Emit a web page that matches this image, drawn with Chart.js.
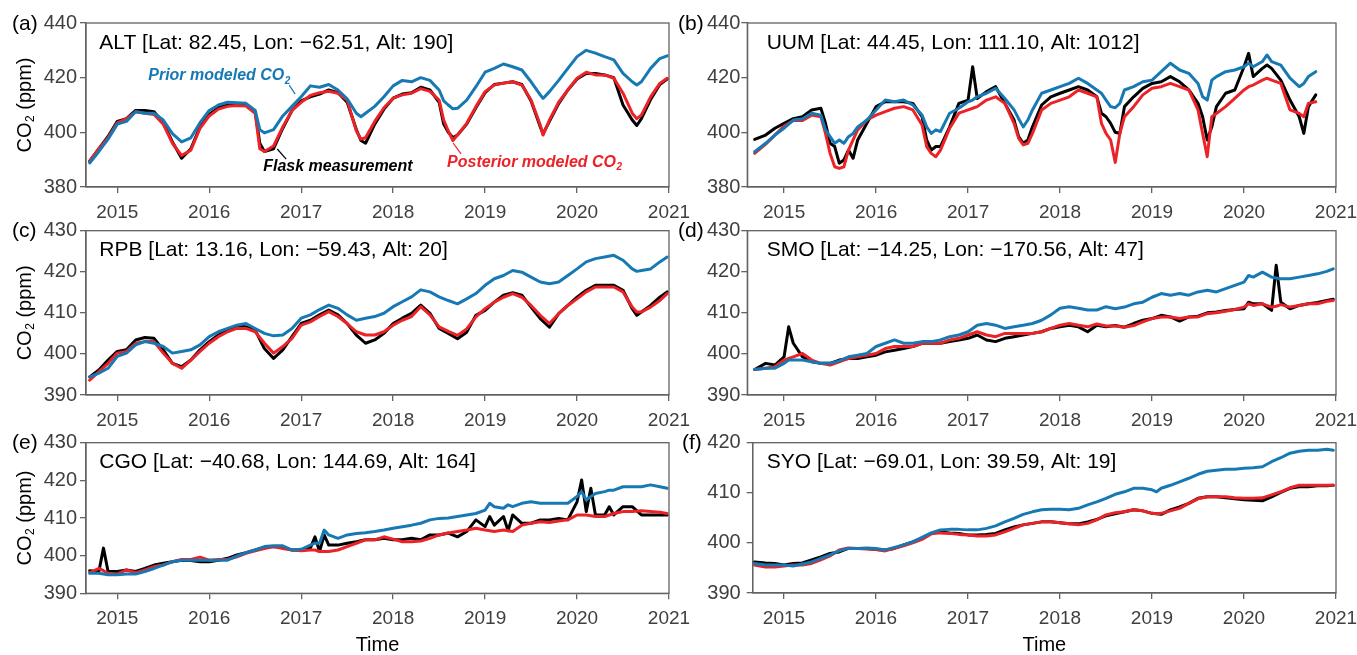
<!DOCTYPE html>
<html>
<head>
<meta charset="utf-8">
<script src="https://cdn.jsdelivr.net/npm/chart.js@4.4.1/dist/chart.umd.min.js"></script>
<style>
  html, body { margin: 0; padding: 0; background: #fff; overflow: hidden; }
  #fig { position: relative; width: 1357px; height: 655px; overflow: hidden; }
  #fig canvas { position: absolute; }
</style>
</head>
<body>
<div id="fig"></div>
<script>
// ---------------- data (decimal year, ppm) ----------------
const xTicks = [2015, 2016, 2017, 2018, 2019, 2020, 2021];

// ALT
const tALT = [2014.70,2014.8,2014.9,2015.0,2015.1,2015.2,2015.3,2015.4,2015.5,2015.6,2015.7,2015.8,2015.9,2016.0,2016.1,2016.2,2016.3,2016.4,2016.5,2016.55,2016.6,2016.7,2016.8,2016.9,2017.0,2017.1,2017.2,2017.3,2017.4,2017.5,2017.6,2017.65,2017.7,2017.8,2017.9,2018.0,2018.1,2018.2,2018.3,2018.4,2018.5,2018.55,2018.6,2018.65,2018.7,2018.8,2018.9,2019.0,2019.1,2019.2,2019.3,2019.4,2019.5,2019.6,2019.63,2019.7,2019.8,2019.9,2020.0,2020.1,2020.2,2020.3,2020.4,2020.5,2020.6,2020.65,2020.7,2020.8,2020.9,2020.98];
const priorALT = [388.8,393,397.5,403,404,407.5,407,407,404.5,399.5,396.5,398,403.5,408,410,411,410.8,410.6,408,401,399.8,401,406,409.5,413,417,416.5,417.5,415.5,412.3,407,405.7,407,409.5,413,417,419,418.5,420,419,415.5,411.5,410,408.6,408.8,411.8,416.7,422,423.4,425,424,422.8,418.5,413.7,412.4,414.9,419,423.4,427.7,430,429,427.7,426.5,421.6,418.5,417.3,418.5,423.4,427,428];
const postALT = [389.5,394,398,403.5,405,407.5,407,406.5,403,396,391.5,393.5,401.5,406,408.5,409.5,409.8,409.6,407,394,393,395,402,408,411,413.5,414.5,415,414.3,411.8,400.5,397.5,398,404,409,412.5,413.7,414.3,416,415,411.8,404.5,400.5,397,399,403.3,409.4,414.9,417.3,418,418.5,417.3,411.8,402.7,399,404.5,411,415.5,419.8,422,421,421,419.8,414.3,407,405,406.3,413,417.9,419.8];
const flaskALT = [389.5,394,398.5,404,405,408,408,407.5,403.5,396.5,390.5,394,402,406.5,409,410,410.2,410,407.5,396,393,394,401.5,408,411.5,413,414,415.5,414.5,411,401,397,396,403,408.5,412.5,414,414.5,416.5,415.5,411,403,400,398,399,403,409,414.5,417.5,418,418.5,417.5,411.5,402,399.5,404,410.5,415.5,419.5,421.5,421.5,421,420,410,404.5,402.5,405,412,417.5,419.5];

// UUM
const tUUM = [2014.68,2014.8,2014.9,2015.0,2015.1,2015.2,2015.3,2015.4,2015.45,2015.5,2015.55,2015.6,2015.65,2015.7,2015.75,2015.8,2015.9,2016.0,2016.1,2016.2,2016.3,2016.4,2016.5,2016.55,2016.6,2016.65,2016.7,2016.8,2016.9,2017.0,2017.05,2017.1,2017.2,2017.3,2017.4,2017.5,2017.55,2017.6,2017.65,2017.7,2017.8,2017.9,2018.0,2018.1,2018.2,2018.3,2018.4,2018.45,2018.5,2018.55,2018.6,2018.65,2018.7,2018.8,2018.9,2019.0,2019.1,2019.2,2019.3,2019.4,2019.5,2019.55,2019.6,2019.65,2019.7,2019.8,2019.9,2020.0,2020.05,2020.1,2020.2,2020.25,2020.3,2020.4,2020.5,2020.6,2020.65,2020.7,2020.78];
const priorUUM = [392.9,396,399,401.5,404.5,405,407,406.3,400.9,398.4,396,397.2,396,398.4,399.6,402,404.5,408.2,411.8,411.2,411.8,410,406.3,402,399.6,400.9,400.3,407,408.8,411.2,411.8,413,414.3,416.1,412.4,408.2,405,402,404.5,408.2,414.3,415.5,416.7,417.9,419.8,417.9,415.5,414.3,411.8,409.4,409,410.6,415.5,416.7,418.5,419.1,422.2,425.3,422.8,421.6,417.9,413,411.8,419.1,420.4,422.2,422.8,424,425.3,424,425.9,428.3,425.9,424.6,419.8,416.7,417.9,420.4,422.2];
const postUUM = [392.3,395.7,399,402.3,404.3,404.3,406.3,405.7,399.6,392.3,387.4,386.8,387.4,393.5,397.2,400.9,404.5,406.3,407.6,408.8,409.4,408.2,402.7,394.8,392.3,391.1,393.5,401.5,407,408.2,408.8,409.4,411.8,413,410.6,403.3,397.8,395.4,396,399.6,408.2,410.6,411.8,413,415.5,414.3,413,403.3,399.6,397.2,389,399.6,405.7,409.4,413.7,416.1,416.7,417.9,416.7,415.5,408.2,399.6,391.1,405.7,406.9,409.4,412.4,415.5,416.7,417.3,419.1,419.8,419.1,417.9,408.2,406.9,405.7,410.6,411.2];
const flaskUUM = [397.4,399,401.5,403.3,405,405.7,408.2,408.8,403.3,396,394.8,388.7,389.9,393.5,390.5,397.2,403.3,409.4,411.2,411.2,411.2,410.6,405.7,397.2,393.5,394.8,394.8,402,410.6,411.8,424,412.4,414.9,416.7,410.6,404.5,398.4,396,397.2,402,410,413,414.3,415.5,416.7,415.5,413,407,405.7,403.3,400,399.6,409.4,413,416.1,417.9,418.5,420.4,418.5,415.5,410.6,405.7,397.2,402,409.4,414.3,415.5,424,428.9,420.4,423.4,424.6,423.4,419.1,411.8,405.7,399.6,409.4,413.7];

// RPB
const tRPB = [2014.7,2014.8,2014.9,2015.0,2015.1,2015.2,2015.3,2015.4,2015.5,2015.6,2015.7,2015.8,2015.9,2016.0,2016.1,2016.2,2016.3,2016.4,2016.5,2016.6,2016.7,2016.8,2016.9,2017.0,2017.1,2017.2,2017.3,2017.4,2017.5,2017.6,2017.7,2017.8,2017.9,2018.0,2018.1,2018.2,2018.3,2018.4,2018.5,2018.6,2018.7,2018.8,2018.9,2019.0,2019.1,2019.2,2019.3,2019.4,2019.5,2019.6,2019.7,2019.8,2019.9,2020.0,2020.1,2020.2,2020.3,2020.4,2020.5,2020.6,2020.65,2020.7,2020.8,2020.9,2020.98];
const priorRPB = [394.4,395.3,396.5,399.4,400.2,402.2,403,402.6,401.8,400.2,400.6,401,402.2,404.2,405.4,406.2,407,407.4,406.2,405,404.4,404.6,406.2,408.7,409.5,410.8,411.9,411.1,409.5,408.2,408.7,409.1,409.9,411.5,412.7,413.9,415.6,415.1,413.9,413,412.2,413.4,414.7,416.7,418.3,419.1,420.3,419.9,418.7,417.5,417.1,417.5,419.1,420.7,422.4,423.2,423.6,424,422.8,420.7,420.1,420.3,420.7,422.4,423.6];
const postRPB = [393.6,395.7,397.7,400.2,400.6,402.6,403,403,400.2,397.7,396.5,398.5,400.6,402.6,404.2,405.4,406.2,406.2,405.4,402.6,400.2,401.8,403.8,407,407.8,409.1,410.3,409.1,407.4,405.4,404.6,404.6,405.4,407,408.2,409.1,411.5,409.5,406.6,405.5,404.5,406.1,409,411,412.6,413.8,414.7,413.8,411.8,409.4,407.4,409.8,411.8,413.4,415.1,416.3,416.3,416.3,415.1,411.4,410.2,410.2,411.4,413,414.7];
const flaskRPB = [394.4,396.1,398.5,400.6,401,403.4,404,403.8,401,397.7,396.9,398.5,401,403,404.6,405.8,406.8,406.6,405.8,401.3,398.9,401,404.2,407.4,408.2,409.5,410.7,409.5,407.4,404.6,402.6,403.4,405,407.4,408.7,409.9,411.9,409.9,406.2,405,403.7,405.3,409.4,410.6,412.6,414.3,414.9,414.3,411.4,408.6,406.5,409.8,411.8,413.8,415.5,416.7,416.7,416.7,415.5,411,409.4,410.2,411.8,413.8,415.1];

// SMO
const tSMO = [2014.68,2014.8,2014.9,2015.0,2015.05,2015.1,2015.2,2015.3,2015.4,2015.5,2015.6,2015.7,2015.8,2015.9,2016.0,2016.1,2016.2,2016.3,2016.4,2016.5,2016.6,2016.7,2016.8,2016.9,2017.0,2017.1,2017.2,2017.3,2017.4,2017.5,2017.6,2017.7,2017.8,2017.9,2018.0,2018.1,2018.2,2018.3,2018.4,2018.5,2018.6,2018.7,2018.8,2018.9,2019.0,2019.1,2019.2,2019.3,2019.4,2019.5,2019.6,2019.7,2019.8,2019.9,2020.0,2020.05,2020.1,2020.2,2020.3,2020.35,2020.4,2020.5,2020.6,2020.7,2020.8,2020.9,2020.97];
const priorSMO = [396.2,396.5,396.5,397.7,398.5,398.5,398.5,398.1,397.7,397.7,398.3,399.3,399.7,400.1,401.8,402.6,403.4,402.6,402.6,403,403,403.4,404.2,404.6,405.4,407,407.4,407,406.2,406.6,407,407.4,408.2,409.5,411.1,411.5,411.1,410.7,410.7,411.5,411,411.4,412.2,412.6,413.8,414.7,414.3,414.7,414.3,415.1,415.5,415.1,415.9,416.7,417.5,419.1,418.7,419.9,418.7,418.5,418.3,418.3,418.7,419.1,419.5,420.1,420.7];
const postSMO = [396.2,396.5,396.9,398.5,398.9,399.3,400.1,398.5,397.7,397.3,398.1,398.9,399.3,399.7,400.1,401.3,401.8,401.8,401.8,402.6,402.6,402.6,403.4,403.8,404.6,405.4,404.6,404.2,405,405,405,405,405.4,406.2,407,407.4,407,406.6,407.3,406.8,406.8,406.5,406.9,407.8,408.6,409,409,408.6,409,409,409.8,410,410.4,410.8,411.4,412.2,411.8,412.2,411.4,411.6,412,411.4,411.8,412.2,412.2,412.8,413];
const flaskSMO = [396.2,397.7,397.3,399.3,406.6,402.6,399.3,398.1,397.7,397.7,398.5,398.9,398.9,399.3,399.7,400.5,400.9,401.3,401.8,402.6,402.6,402.6,403,403.4,403.8,404.6,403.4,403,403.8,404.2,404.6,405,405.4,406.2,406.6,407,406.6,405.4,407,406.6,406.9,406.5,407.4,408.2,408.6,409.4,409,408,409,409.2,410,410.2,410.6,410.8,411,412.6,412.2,412.2,410.6,421.6,412.6,411,411.8,412.2,412.5,413,413.3];

// CGO
const tCGO = [2014.7,2014.8,2014.85,2014.9,2015.0,2015.1,2015.2,2015.3,2015.4,2015.5,2015.6,2015.7,2015.8,2015.9,2016.0,2016.1,2016.2,2016.3,2016.4,2016.5,2016.6,2016.7,2016.8,2016.9,2017.0,2017.1,2017.15,2017.2,2017.25,2017.3,2017.4,2017.5,2017.6,2017.7,2017.8,2017.9,2018.0,2018.1,2018.2,2018.3,2018.4,2018.5,2018.6,2018.7,2018.8,2018.9,2019.0,2019.05,2019.1,2019.2,2019.25,2019.3,2019.4,2019.5,2019.6,2019.7,2019.8,2019.9,2020.0,2020.05,2020.1,2020.15,2020.2,2020.3,2020.35,2020.4,2020.5,2020.6,2020.7,2020.8,2020.9,2020.98];
const priorCGO = [395.3,395.3,395.1,394.9,394.9,395.1,395.1,395.8,396.6,397.5,398.4,398.8,398.8,398.8,398.8,398.8,398.8,399.9,400.8,401.5,402.4,402.6,402.6,401.5,401.7,402.8,403.3,403.3,406.8,405.5,404.6,405.5,405.9,406.1,406.4,406.8,407.3,407.7,408.1,408.6,409.5,409.9,410,410.4,410.8,411.2,412.1,413.9,413,412.6,413.5,413,413.9,414.3,413.9,413.9,413.9,413.9,415.7,417,414.8,415.7,416.5,417,417.4,417.4,418.3,418.3,418.3,418.8,418.3,417.9];
const postCGO = [395.5,396.6,396,395.3,395.1,396.2,395.5,396.2,397.1,397.5,398.4,399,399,399.6,398.8,399,399,399.7,400.6,401.3,401.9,402.4,401.9,401.5,401.3,401.5,401.5,401.1,401.1,401.1,401.5,402.4,403.3,404.2,404.2,405,404.4,403.7,403.7,403.9,404.6,405.5,406,406.4,406.8,407.3,406.8,406.6,406.4,406.8,406.6,406.4,408.1,408.6,409,408.8,409.2,409.5,410.8,410.8,410.8,410.6,410.4,410.4,410.8,411.2,411.7,411.7,411.9,411.7,411.5,411.2];
const flaskCGO = [396,395.8,402,395.8,395.8,396.2,395.8,396.6,397.5,398,398.4,398.8,398.7,398.4,398.4,398.8,399.3,400.2,400.8,401.5,402.2,402.4,402.2,401.5,401.5,402,405,401.1,405.5,402.8,402.8,403.3,403.7,404.2,404.2,404.6,404.2,404.2,404.6,404.2,405.5,405.5,406,405,406.4,409.5,407.7,410.4,408.1,410.4,406.6,410.8,408.6,408.6,409.5,409.5,409.9,409.5,414.3,420.1,411.7,417.9,410.8,410.8,413,410.8,413,413,410.8,410.8,410.8,410.8];

// SYO
const tSYO = [2014.68,2014.8,2014.9,2015.0,2015.1,2015.2,2015.3,2015.4,2015.5,2015.6,2015.7,2015.8,2015.9,2016.0,2016.1,2016.2,2016.3,2016.4,2016.5,2016.6,2016.7,2016.8,2016.9,2017.0,2017.1,2017.2,2017.3,2017.4,2017.5,2017.6,2017.7,2017.8,2017.9,2018.0,2018.1,2018.2,2018.3,2018.4,2018.5,2018.6,2018.7,2018.8,2018.9,2019.0,2019.05,2019.1,2019.2,2019.3,2019.4,2019.5,2019.6,2019.7,2019.8,2019.9,2020.0,2020.1,2020.2,2020.3,2020.4,2020.5,2020.6,2020.7,2020.8,2020.9,2020.97];
const priorSYO = [395.9,395.6,395.6,395.6,395.4,395.8,396.2,396.9,397.6,398.4,398.9,398.9,399,398.9,398.6,399.1,399.6,400.2,401.1,402,402.6,402.7,402.7,402.6,402.6,402.9,403.4,404.2,404.9,405.7,406.2,406.6,406.7,406.7,406.6,406.9,407.6,408.2,408.9,409.7,410.2,410.9,410.9,410.6,410.2,410.9,411.5,412.2,412.9,413.7,414.3,414.5,414.7,414.7,414.9,415,415.2,416.2,417,417.9,418.3,418.5,418.5,418.7,418.5];
const postSYO = [395.6,395.2,395.2,395.4,395.6,395.6,395.9,396.6,397.4,398.6,399,398.9,398.8,398.7,398.4,398.9,399.4,400,400.7,401.8,402,401.9,401.7,401.6,401.4,401.4,401.6,402.2,402.9,403.6,403.9,404.2,404.2,404,403.8,403.6,403.9,404.6,405.6,406,406.2,406.6,406.4,405.9,405.8,405.9,406.4,406.9,407.9,408.8,409.2,409.2,409.2,409,408.9,408.9,409,409.6,410.2,411,411.5,411.5,411.5,411.5,411.5];
const flaskSYO = [396.2,396,395.9,395.6,395.9,396,396.6,397.2,397.9,398.2,398.9,398.9,398.9,398.7,398.6,398.9,399.6,400.2,400.9,401.9,402.2,402,401.9,401.6,401.6,401.7,401.9,402.6,403.2,403.6,403.9,404.2,404.2,404,403.8,403.8,404.2,404.7,405.4,405.8,406.2,406.6,406.4,405.9,405.8,405.7,406.6,407.2,407.9,408.9,409.2,409.2,409,408.8,408.6,408.5,408.4,409.2,410.1,410.9,411.2,411.2,411.4,411.4,411.5];

const yTicksALT = [380, 400, 420, 440];
const yTicksUUM = [380, 400, 420, 440];
const yTicksRPB = [390, 400, 410, 420, 430];
const yTicksSMO = [390, 400, 410, 420, 430];
const yTicksCGO = [390, 400, 410, 420, 430];
const yTicksSYO = [390, 400, 410, 420];

// ---------------- styling & layout ----------------
const FONT = "'Liberation Sans', Arial, Helvetica, sans-serif";
const PRIOR_COLOR = '#1679b3';
const POST_COLOR = '#ec2227';
const FLASK_COLOR = '#000000';
const AXIS_COLOR = '#636363';
const TICK_TEXT = '#3f3f3f';
const Y_AXIS_W = 60;
const CANVAS_W = 700;
const BELOW = 70;

const panels = [
  { key: 'a', title: 'ALT [Lat: 82.45, Lon: \u221262.51, Alt: 190]', t: tALT, prior: priorALT, post: postALT, flask: flaskALT, yTicks: yTicksALT,
    plot: { l: 86, t: 23, r: 669, b: 187 }, canvasLeft: 0, letterX: 12, titleX: 99.3, xMin: 2014.66, yPad: 3, ylabel: true, time: false,
    notes: [
      { text: 'Prior modeled CO', sub: '2', color: PRIOR_COLOR, t: 2015.337, v: 420.6, line: [2016.87, 417.3, 2016.935, 414.0] },
      { text: 'Flask measurement', sub: '', color: FLASK_COLOR, t: 2016.587, v: 387.3, line: [2016.74, 393.9, 2016.837, 390.2] },
      { text: 'Posterior modeled CO', sub: '2', color: POST_COLOR, t: 2018.587, v: 389.1, line: [2018.652, 396.1, 2018.739, 392.1] }
    ] },
  { key: 'b', title: 'UUM [Lat: 44.45, Lon: 111.10, Alt: 1012]', t: tUUM, prior: priorUUM, post: postUUM, flask: flaskUUM, yTicks: yTicksUUM,
    plot: { l: 747.3, t: 23, r: 1336, b: 187 }, canvasLeft: 672, letterX: 678, titleX: 766.7, xMin: 2014.6, yPad: 1, ylabel: false, time: false, notes: [] },
  { key: 'c', title: 'RPB [Lat: 13.16, Lon: \u221259.43, Alt: 20]', t: tRPB, prior: priorRPB, post: postRPB, flask: flaskRPB, yTicks: yTicksRPB,
    plot: { l: 86, t: 230.7, r: 669, b: 395 }, canvasLeft: 0, letterX: 12, titleX: 99.3, xMin: 2014.66, yPad: 3, ylabel: true, time: false, notes: [] },
  { key: 'd', title: 'SMO [Lat: \u221214.25, Lon: \u2212170.56, Alt: 47]', t: tSMO, prior: priorSMO, post: postSMO, flask: flaskSMO, yTicks: yTicksSMO,
    plot: { l: 747.3, t: 230.7, r: 1336, b: 395 }, canvasLeft: 672, letterX: 678, titleX: 766.7, xMin: 2014.6, yPad: 1, ylabel: false, time: false, notes: [] },
  { key: 'e', title: 'CGO [Lat: \u221240.68, Lon: 144.69, Alt: 164]', t: tCGO, prior: priorCGO, post: postCGO, flask: flaskCGO, yTicks: yTicksCGO,
    plot: { l: 86, t: 442.7, r: 669, b: 593.3 }, canvasLeft: 0, letterX: 12, titleX: 99.3, xMin: 2014.66, yPad: 3, ylabel: true, time: true, notes: [] },
  { key: 'f', title: 'SYO [Lat: \u221269.01, Lon: 39.59, Alt: 19]', t: tSYO, prior: priorSYO, post: postSYO, flask: flaskSYO, yTicks: yTicksSYO,
    plot: { l: 752.7, t: 442.7, r: 1336, b: 593 }, canvasLeft: 672, letterX: 682, titleX: 766.7, xMin: 2014.66, yPad: 6, ylabel: false, time: true, notes: [] }
];

// text with an optional subscript tail, e.g. "CO" + "2"
function richWidth(ctx, main, sub, size, style) {
  ctx.font = `${style} ${size}px ${FONT}`;
  let w = ctx.measureText(main).width;
  if (sub) { ctx.font = `${style} ${Math.round(size * 0.62)}px ${FONT}`; w += ctx.measureText(sub).width; }
  return w;
}
function drawRich(ctx, main, sub, tail, x, y, size, style) {
  ctx.textAlign = 'left';
  ctx.textBaseline = 'middle';
  ctx.font = `${style} ${size}px ${FONT}`;
  ctx.fillText(main, x, y);
  let cx = x + ctx.measureText(main).width;
  if (sub) {
    ctx.font = `${style} ${Math.round(size * 0.62)}px ${FONT}`;
    ctx.fillText(sub, cx + 0.5, y + size * 0.3);
    cx += ctx.measureText(sub).width + 0.5;
  }
  if (tail) {
    ctx.font = `${style} ${size}px ${FONT}`;
    ctx.fillText(tail, cx, y);
  }
}

function decorPlugin(P, canvasTop) {
  return {
    id: 'decor' + P.key,
    afterDraw(chart) {
      const { ctx, chartArea: ca, scales } = chart;
      ctx.save();
      // frame
      ctx.strokeStyle = AXIS_COLOR;
      ctx.lineWidth = 1.3;
      ctx.strokeRect(ca.left, ca.top, ca.right - ca.left, ca.bottom - ca.top);
      // panel letter and station title
      ctx.fillStyle = '#000';
      ctx.textBaseline = 'middle';
      ctx.textAlign = 'left';
      ctx.font = `21px ${FONT}`;
      ctx.fillText('(' + P.key + ')', P.letterX - P.canvasLeft, ca.top + 1);
      ctx.fillText(P.title, P.titleX - P.canvasLeft, ca.top + 20);
      // y axis title
      if (P.ylabel) {
        const size = 20;
        const w = richWidth(ctx, 'CO', '2', size, '') + (ctx.font = `${size}px ${FONT}`, ctx.measureText(' (ppm)').width) + 0.5;
        ctx.save();
        ctx.translate(25 - P.canvasLeft, (ca.top + ca.bottom) / 2);
        ctx.rotate(-Math.PI / 2);
        ctx.fillStyle = '#000';
        drawRich(ctx, 'CO', '2', ' (ppm)', -w / 2, 0, size, '');
        ctx.restore();
      }
      // x axis title
      if (P.time) {
        ctx.fillStyle = '#000';
        ctx.textAlign = 'center';
        ctx.font = `20px ${FONT}`;
        ctx.fillText('Time', (ca.left + ca.right) / 2, 645 - canvasTop);
      }
      // series labels with leader lines
      P.notes.forEach(n => {
        const xs = scales.x, ys = scales.y;
        ctx.strokeStyle = n.color;
        ctx.lineWidth = 1.2;
        ctx.beginPath();
        ctx.moveTo(xs.getPixelForValue(n.line[0]), ys.getPixelForValue(n.line[1]));
        ctx.lineTo(xs.getPixelForValue(n.line[2]), ys.getPixelForValue(n.line[3]));
        ctx.stroke();
        ctx.fillStyle = n.color;
        drawRich(ctx, n.text, n.sub, '', xs.getPixelForValue(n.t), ys.getPixelForValue(n.v), 16, 'italic bold');
      });
      ctx.restore();
    }
  };
}

function series(t, v) { return t.map((x, i) => ({ x: x, y: v[i] })); }

const fig = document.getElementById('fig');
panels.forEach(P => {
  const top = Math.round(P.plot.t) - 20;
  const height = Math.ceil(P.plot.b - top) + BELOW;
  const xAxisH = height - (P.plot.b - top);
  const cv = document.createElement('canvas');
  cv.width = CANVAS_W;
  cv.height = height;
  cv.style.left = P.canvasLeft + 'px';
  cv.style.top = top + 'px';
  cv.style.width = CANVAS_W + 'px';
  cv.style.height = height + 'px';
  fig.appendChild(cv);

  const common = {
    pointRadius: 0, borderWidth: 3, tension: 0, fill: false,
    borderJoinStyle: 'round', borderCapStyle: 'round'
  };
  new Chart(cv.getContext('2d'), {
    type: 'line',
    data: {
      datasets: [
        Object.assign({ label: 'Prior modeled CO2', data: series(P.t, P.prior), borderColor: PRIOR_COLOR, order: 1 }, common),
        Object.assign({ label: 'Posterior modeled CO2', data: series(P.t, P.post), borderColor: POST_COLOR, order: 2 }, common),
        Object.assign({ label: 'Flask measurement', data: series(P.t, P.flask), borderColor: FLASK_COLOR, order: 3 }, common)
      ]
    },
    options: {
      responsive: false,
      animation: false,
      devicePixelRatio: 1,
      layout: {
        padding: {
          left: P.plot.l - P.canvasLeft - Y_AXIS_W,
          top: P.plot.t - top,
          right: P.canvasLeft + CANVAS_W - P.plot.r,
          bottom: 0
        }
      },
      plugins: { legend: { display: false }, tooltip: { enabled: false } },
      scales: {
        x: {
          type: 'linear', position: 'bottom', min: P.xMin, max: 2021,
          afterBuildTicks: s => { s.ticks = xTicks.map(v => ({ value: v })); },
          afterFit: s => { s.height = xAxisH; },
          grid: { drawOnChartArea: false, drawTicks: true, tickLength: 6, color: AXIS_COLOR, lineWidth: 1.3 },
          border: { display: true, color: AXIS_COLOR, width: 1.3 },
          ticks: { autoSkip: false, maxRotation: 0, padding: 8, color: TICK_TEXT, font: { family: FONT, size: 19 }, callback: v => String(v) }
        },
        y: {
          type: 'linear', position: 'left', min: P.yTicks[0], max: P.yTicks[P.yTicks.length - 1],
          afterBuildTicks: s => { s.ticks = P.yTicks.map(v => ({ value: v })); },
          afterFit: s => { s.width = Y_AXIS_W; },
          grid: { drawOnChartArea: false, drawTicks: true, tickLength: 6, color: AXIS_COLOR, lineWidth: 1.3 },
          border: { display: true, color: AXIS_COLOR, width: 1.3 },
          ticks: { autoSkip: false, padding: P.yPad, color: TICK_TEXT, font: { family: FONT, size: 20 }, callback: v => String(v) }
        }
      }
    },
    plugins: [decorPlugin(P, top)]
  });
});
</script>
</body>
</html>
